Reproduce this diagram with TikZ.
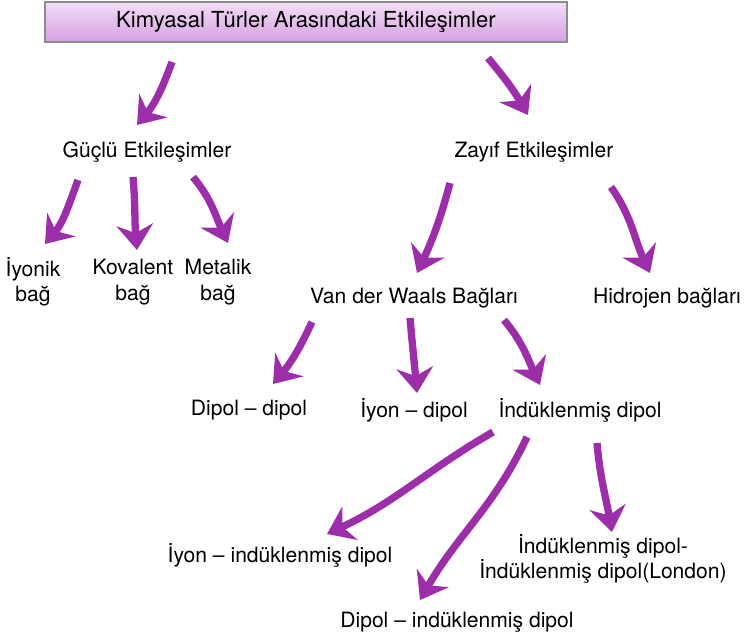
\documentclass[tikz,border=0pt]{standalone}
\usepackage{fontspec}
\setmainfont{TeX Gyre Heros}
\usepackage{xcolor}
\usepackage{tikz}
\usetikzlibrary{arrows.meta,positioning,calc}
\definecolor{arrpurple}{RGB}{156,46,170}
\definecolor{boxtop}{RGB}{243,222,247}
\definecolor{boxbot}{RGB}{214,160,226}
\tikzset{
  lbl/.style={font=\fontsize{15}{18}\selectfont, inner sep=1pt, align=center},
  arr/.style={draw=arrpurple, line width=5.2pt,
    -{Stealth[length=18pt,width=26pt,inset=6pt]}},
}

\begin{document}
\begin{tikzpicture}[x=0.025cm,y=-0.025cm]
    \useasboundingbox (0,0) rectangle (752,638);
    % title box
    \node[lbl, font=\fontsize{15.7}{18}\selectfont, draw=black!45, line width=0.8pt,
          top color=boxtop, bottom color=boxbot,
          minimum width=522*0.025cm, minimum height=40*0.025cm] (top) at (306,22)
          {Kimyasal Türler Arasındaki Etkileşimler};

    % labels
    \node[lbl] (strong) at (147,152) {Güçlü Etkileşimler};
    \node[lbl] (weak) at (534,152) {Zayıf Etkileşimler};
    \node[lbl] (ionic) at (33,282) {İyonik\\bağ};
    \node[lbl] (covalent) at (133,282) {Kovalent\\bağ};
    \node[lbl] (metallic) at (218,282) {Metalik\\bağ};
    \node[lbl] (vdw) at (414,298) {Van der Waals Bağları};
    \node[lbl] (hbond) at (667,298) {Hidrojen bağları};
    \node[lbl] (dd) at (249,410) {Dipol – dipol};
    \node[lbl] (id) at (414,410) {İyon – dipol};
    \node[lbl] (ind) at (580,410) {İndüklenmiş dipol};
    \node[lbl] (iind) at (280,555) {İyon – indüklenmiş dipol};
    \node[lbl] (london) at (603,559) {İndüklenmiş dipol-\\İndüklenmiş dipol(London)};
    \node[lbl] (dind) at (457,622) {Dipol – indüklenmiş dipol};

    % arrow ends
    \coordinate (t1) at (172,62);  \coordinate (h1) at (137,125);
    \coordinate (t2) at (488,58);  \coordinate (h2) at (528,115);
    \coordinate (t3) at (78,180);  \coordinate (h3) at (45,244);
    \coordinate (t4) at (133,177); \coordinate (h4) at (137,250);
    \coordinate (t5) at (193,177); \coordinate (h5) at (228,243);
    \coordinate (t6) at (450,183); \coordinate (h6) at (417,273);
    \coordinate (t7) at (611,187); \coordinate (h7) at (650,273);
    \coordinate (t8) at (312,322); \coordinate (h8) at (273,384);
    \coordinate (t9) at (410,318); \coordinate (h9) at (417,393);
    \coordinate (t10) at (504,320); \coordinate (h10) at (540,385);
    \coordinate (t11) at (493,432); \coordinate (h11) at (327,534);
    \coordinate (t12) at (527,437); \coordinate (h12) at (420,600);
    \coordinate (t13) at (597,443); \coordinate (h13) at (612,532);

    % arrows
    \draw[arr] (t1) to[out=-110,in=50] (h1);
    \draw[arr] (t2) to[out=-50,in=120] (h2);
    \draw[arr] (t3) to[out=-110,in=50] (h3);
    \draw[arr] (t4) to[out=-85,in=95] (h4);
    \draw[arr] (t5) to[out=-50,in=115] (h5);
    \draw[arr] (t6) to[out=-105,in=65] (h6);
    \draw[arr] (t7) to[out=-55,in=115] (h7);
    \draw[arr] (t8) to[out=-115,in=50] (h8);
    \draw[arr] (t9) to[out=-85,in=95] (h9);
    \draw[arr] (t10) to[out=-50,in=115] (h10);
    \draw[arr] (t11) to[out=-150,in=25] (h11);
    \draw[arr] (t12) to[out=-115,in=60] (h12);
    \draw[arr] (t13) to[out=-85,in=100] (h13);
\end{tikzpicture}
\end{document}
